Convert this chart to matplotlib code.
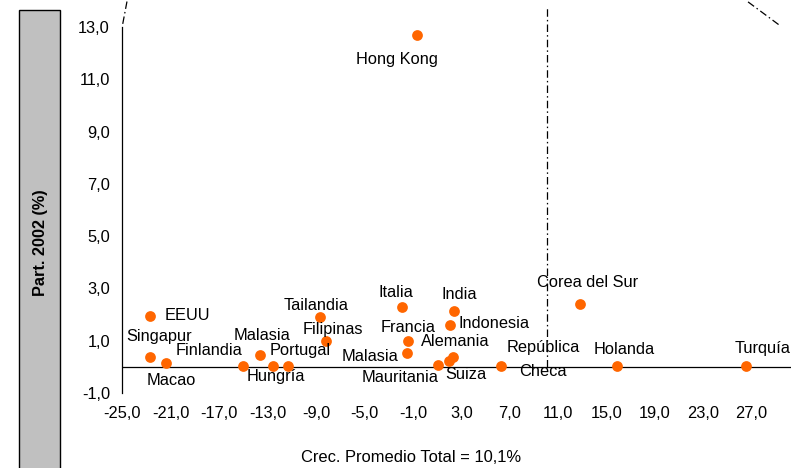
import matplotlib
matplotlib.use("Agg")
import matplotlib.pyplot as plt
from matplotlib.patches import Rectangle
from matplotlib.lines import Line2D

plt.rcParams['font.family'] = ['Liberation Sans', 'DejaVu Sans']

# Country, average growth (%) and 2002 share (%)
countries = ["Hong Kong", "EEUU", "Singapur", "Macao", "Finlandia", "Malasia",
             "Hungría", "Portugal", "Tailandia", "Filipinas", "Italia", "India",
             "Indonesia", "Francia", "Malasia", "Alemania", "Suiza", "Mauritania",
             "República\nCheca", "Corea del Sur", "Holanda", "Turquía"]
growth = [-0.7, -22.7, -22.7, -21.4, -15.0, -13.6, -12.6, -11.3, -8.7, -8.2,
          -1.9, 2.4, 2.1, -1.4, -1.5, 2.3, 2.0, 1.1, 6.3, 12.8, 15.9, 26.5]
share = [12.7, 1.96, 0.36, 0.14, 0.05, 0.46, 0.05, 0.05, 1.9, 0.99,
         2.28, 2.15, 1.61, 0.97, 0.52, 0.39, 0.21, 0.08, 0.04, 2.41, 0.04, 0.05]

# Label offsets from each point, in pixels (right, up)
label_dx = [-20, 37, 9, 5, -34, 2, 3, 12, -4, 7, -6, 5, 44, 0, -37, 2, 17, -38,
            42, 8, 7, 17]
label_dy = [-25, 0, 21, -17, 15, 19, -11, 15, 12, 11, 15, 16, 1, 14, -3, 15,
            -13, -13, 6, 21, 16, 17]

avg_growth = 10.1
x_ticks = [-25, -21, -17, -13, -9, -5, -1, 3, 7, 11, 15, 19, 23, 27]
y_ticks = [-1, 1, 3, 5, 7, 9, 11, 13]

W, H = 791, 468
fig = plt.figure(figsize=(W / 100, H / 100), dpi=100)
ax = fig.add_axes([122.5 / W, (H - 393) / H, (W - 122.5) / W, 366 / H])
ax.set_xlim(-25, 30.25)
ax.set_ylim(-1, 13)

ax.scatter(growth, share, s=60, color="#FF6600", zorder=3, linewidths=0)

for name, x, y, dx, dy in zip(countries, growth, share, label_dx, label_dy):
    ax.annotate(name, (x, y), xytext=(dx, dy), textcoords="offset pixels",
                ha="center", va="center", fontsize=11.8, color="black",
                linespacing=1.75, annotation_clip=False, zorder=4)

# Axis at y = 0 and the average-growth reference line
ax.axhline(0, color="black", lw=0.9, zorder=2)
dash = (0, (6, 2.5, 1.2, 2.5))
ax.add_line(Line2D([avg_growth, avg_growth], [0, 13.8], color="black", lw=0.9,
                   linestyle=dash, clip_on=False))
ax.add_line(Line2D([-24.98, -24.6], [13.12, 14.05], color="black", lw=0.9,
                   linestyle=dash, clip_on=False))
ax.add_line(Line2D([26.7, 29.35], [13.96, 13.05], color="black", lw=0.9,
                   linestyle=dash, clip_on=False))

for side in ("top", "right", "bottom"):
    ax.spines[side].set_visible(False)
ax.spines["left"].set_linewidth(0.9)

ax.set_xticks(x_ticks)
ax.set_xticklabels([f"{v:.1f}".replace(".", ",") for v in x_ticks])
ax.set_yticks(y_ticks)
ax.set_yticklabels([f"{v:.1f}".replace(".", ",") for v in y_ticks])
ax.tick_params(axis="both", length=0, labelsize=11.8)
ax.tick_params(axis="y", pad=9)
ax.tick_params(axis="x", pad=9)

fig.text(411 / W, 1 - 457 / H, "Crec. Promedio Total = 10,1%", ha="center",
         va="center", fontsize=11.9)

# Shaded title box on the left
fig.patches.append(Rectangle((19 / W, -0.05), 41 / W, 1.05 - 10.5 / H,
                             transform=fig.transFigure, facecolor="#C0C0C0",
                             edgecolor="black", lw=1.0))
fig.text(40 / W, 1 - 243 / H, "Part. 2002 (%)", rotation=90, ha="center",
         va="center", fontsize=11.7, fontweight="bold")

fig.savefig("out.png", dpi=100)
